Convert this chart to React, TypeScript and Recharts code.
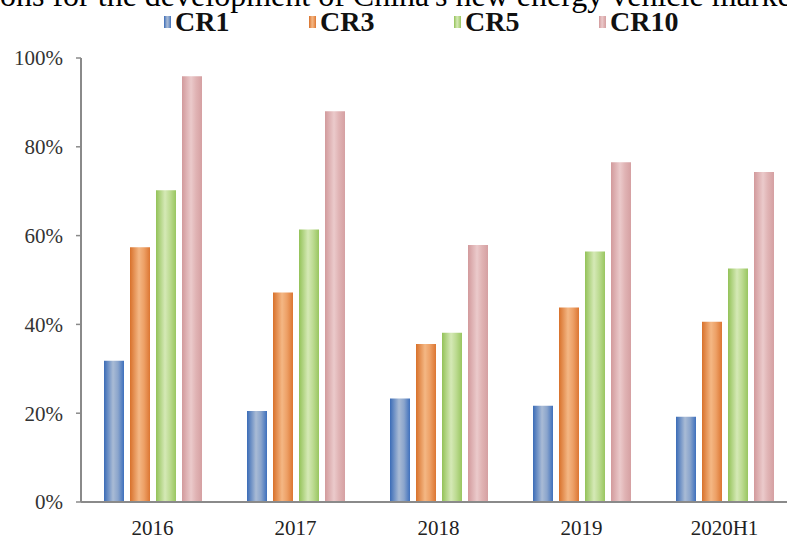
import { BarChart, Bar, XAxis, YAxis, Legend } from "recharts";

const years = ["2016", "2017", "2018", "2019", "2020H1"];
const cr1 = [31.8, 20.5, 23.3, 21.7, 19.2];
const cr3 = [57.4, 47.2, 35.6, 43.8, 40.6];
const cr5 = [70.2, 61.4, 38.1, 56.4, 52.6];
const cr10 = [95.9, 88.0, 57.9, 76.5, 74.3];
const yTicks = [0, 20, 40, 60, 80, 100];
const boundaries = [0, 1, 2, 3, 4, 5];

const data = years.map((year, i) => ({
  year,
  CR1: cr1[i],
  CR3: cr3[i],
  CR5: cr5[i],
  CR10: cr10[i],
}));

const SERIES = [
  { key: "CR1", grad: "gCR1", stops: ["#3b6cb7", "#a9bbd5", "#8ba5cc", "#3e70bd"] },
  { key: "CR3", grad: "gCR3", stops: ["#d8712b", "#f4b784", "#eda066", "#dc7632"] },
  { key: "CR5", grad: "gCR5", stops: ["#93c258", "#d5e9b6", "#bddb92", "#99c660"] },
  { key: "CR10", grad: "gCR10", stops: ["#d29a9c", "#ebcacb", "#e0b3b4", "#d5a0a2"] },
];

const serif = "'Liberation Serif', 'DejaVu Serif', serif";
const axisGray = "#8a8a8a";

function LegendContent() {
  return (
    <div style={{ position: "relative", height: 40, width: 787 }}>
      {SERIES.map((s, i) => (
        <div
          key={s.key}
          style={{
            position: "absolute",
            left: 164 + i * 145,
            top: 8,
            height: 28,
            lineHeight: "28px",
            display: "flex",
            alignItems: "center",
            fontFamily: serif,
            fontWeight: "bold",
            fontSize: 28,
            color: "#111",
          }}
        >
          <span
            style={{
              display: "inline-block",
              width: 7,
              height: 12,
              marginRight: 4,
              background: `linear-gradient(90deg, ${s.stops[0]}, ${s.stops[1]} 45%, ${s.stops[2]} 70%, ${s.stops[3]})`,
            }}
          />
          {s.key}
        </div>
      ))}
    </div>
  );
}

export default function App() {
  return (
    <div
      style={{
        position: "absolute",
        left: 0,
        top: 0,
        width: 787,
        height: 545,
        overflow: "hidden",
        background: "#fff",
      }}
    >
      <div
        style={{
          position: "absolute",
          left: 0,
          top: -21,
          fontFamily: serif,
          fontSize: 32,
          lineHeight: "32px",
          whiteSpace: "nowrap",
          color: "#000",
        }}
      >
        ons for the development of China's new energy vehicle market
      </div>
      <BarChart
        width={800}
        height={545}
        data={data}
        margin={{ top: 58, right: 4, left: 0, bottom: 0 }}
        barSize={20}
        barGap={6}
        style={{ position: "absolute", left: 0, top: 0 }}
      >
        <defs>
          {SERIES.map((s) => (
            <linearGradient key={s.grad} id={s.grad} x1="0" y1="0" x2="1" y2="0">
              <stop offset="0%" stopColor={s.stops[0]} />
              <stop offset="45%" stopColor={s.stops[1]} />
              <stop offset="70%" stopColor={s.stops[2]} />
              <stop offset="100%" stopColor={s.stops[3]} />
            </linearGradient>
          ))}
        </defs>
        <XAxis
          xAxisId="edges"
          type="number"
          domain={[0, 5]}
          ticks={boundaries}
          tick={false}
          height={0}
          axisLine={false}
          tickSize={7}
          tickLine={{ stroke: axisGray, strokeWidth: 1.5 }}
          allowDataOverflow
        />
        <XAxis
          dataKey="year"
          height={43}
          tickLine={false}
          tickSize={6}
          tickMargin={12}
          axisLine={{ stroke: axisGray, strokeWidth: 2 }}
          tick={{ fill: "#222", fontSize: 21, fontFamily: serif }}
          interval={0}
        />
        <YAxis
          width={81}
          domain={[0, 100]}
          ticks={yTicks}
          tickFormatter={(v) => `${v}%`}
          tickSize={5}
          tickMargin={13}
          axisLine={{ stroke: axisGray, strokeWidth: 2 }}
          tickLine={{ stroke: axisGray, strokeWidth: 1.5 }}
          tick={{ fill: "#333", fontSize: 21, fontFamily: serif }}
        />
        <Legend
          verticalAlign="middle"
          align="center"
          layout="horizontal"
          wrapperStyle={{ top: 0, left: 0, width: 787 }}
          content={() => <LegendContent />}
        />
        {SERIES.map((s) => (
          <Bar
            key={s.key}
            dataKey={s.key}
            fill={`url(#${s.grad})`}
            isAnimationActive={false}
          />
        ))}
      </BarChart>
    </div>
  );
}
